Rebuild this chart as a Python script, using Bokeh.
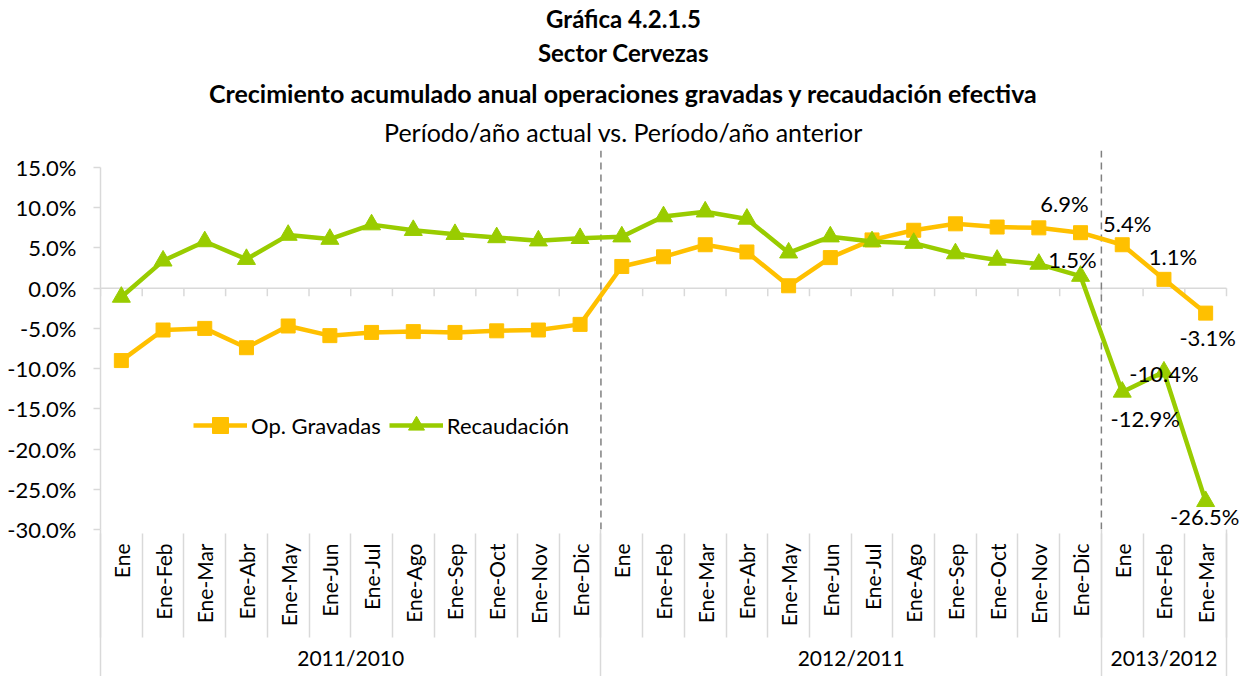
import math
from bokeh.plotting import figure
from bokeh.models import (Range1d, LinearAxis, FixedTicker,
                          PrintfTickFormatter, Label, LabelSet, ColumnDataSource,
                          Legend, LegendItem)
from bokeh.core.properties import value
from bokeh.embed import file_html
from bokeh.resources import INLINE

# ---------------- data ----------------
months_full = ["Ene", "Ene-Feb", "Ene-Mar", "Ene-Abr", "Ene-May", "Ene-Jun",
               "Ene-Jul", "Ene-Ago", "Ene-Sep", "Ene-Oct", "Ene-Nov", "Ene-Dic"]
months_2013 = ["Ene", "Ene-Feb", "Ene-Mar"]
group_names = ["2011/2010", "2012/2011", "2013/2012"]
categories = months_full + months_full + months_2013
groups = [group_names[0]] * 12 + [group_names[1]] * 12 + [group_names[2]] * 3

op_gravadas = [-9.0, -5.2, -5.0, -7.4, -4.7, -5.9, -5.5, -5.4, -5.5, -5.3, -5.2, -4.5,
               2.7, 3.9, 5.4, 4.5, 0.3, 3.8, 6.0, 7.2, 8.0, 7.6, 7.5, 6.9,
               5.4, 1.1, -3.1]
recaudacion = [-1.1, 3.4, 5.8, 3.6, 6.6, 6.1, 7.9, 7.2, 6.7, 6.3, 5.9, 6.2,
               6.4, 8.9, 9.5, 8.6, 4.4, 6.4, 5.8, 5.6, 4.3, 3.5, 3.0, 1.5,
               -12.9, -10.4, -26.5]
y_ticks = [15, 10, 5, 0, -5, -10, -15, -20, -25, -30]

labeled_idx = [23, 24, 25, 26]
# label offsets in screen px (style)
grav_dx = [-16, 5, 9, 2]
grav_dy = [29, 21, 23, -24]
rec_dx = [-8, 23, 0, -1]
rec_dy = [17, -27, -2, -15]

FONT = "Lato"
ORANGE = "#FFC000"
GREEN = "#99CC00"
LIGHT = "#d9d9d9"

n = len(categories)
xpos = [i + 0.5 for i in range(n)]          # category centres on the axis scale
bounds_all = list(range(n + 1))
g_bounds = [0]
for g in group_names:
    g_bounds.append(g_bounds[-1] + groups.count(g))
g_centers = [(a + b) / 2 for a, b in zip(g_bounds[:-1], g_bounds[1:])]

# frame: left 100px, reaching right and top canvas edges (room for texts)
W, H = 1246, 676
LEFT, BOTTOM = 100, 147
PLOT_W = 1126.0                 # width of the 27 categories
x_end = n * (W - LEFT) / PLOT_W
y_top = -30 + (H - BOTTOM) / 8.044
p = figure(width=W, height=H, x_range=Range1d(0, x_end), y_range=Range1d(-30, y_top),
           output_backend="svg", toolbar_location=None, x_axis_location=None,
           min_border_left=LEFT, min_border_right=0, min_border_top=0,
           min_border_bottom=BOTTOM, background_fill_color="white",
           border_fill_color="white")
p.outline_line_color = None
p.xgrid.grid_line_color = None
p.ygrid.grid_line_color = None

# y axis
ya = p.yaxis[0]
ya.ticker = FixedTicker(ticks=y_ticks)
ya.formatter = PrintfTickFormatter(format="%.1f%%")
ya.bounds = (-30, 15)
ya.axis_line_color = LIGHT
ya.axis_line_width = 1.5
ya.major_tick_line_color = LIGHT
ya.major_tick_line_width = 1.5
ya.major_tick_out = 7
ya.major_tick_in = 0
ya.minor_tick_line_color = None
ya.major_label_standoff = 17
ya.major_label_text_font = FONT
ya.major_label_text_font_size = "22px"
ya.major_label_text_color = "black"

# category labels axis; its minor ticks are the period separators (down to the bottom)
EA = 96          # extent of the category label axis (gap + label length)
ax_a = LinearAxis(ticker=FixedTicker(ticks=xpos, minor_ticks=g_bounds),
                  major_label_overrides={c: lab for c, lab in zip(xpos, categories)},
                  major_label_orientation=math.pi / 2,
                  major_tick_out=0, major_tick_in=0,
                  minor_tick_out=BOTTOM, minor_tick_in=0,
                  minor_tick_line_color=LIGHT, minor_tick_line_width=1.5,
                  axis_line_color=None, major_label_standoff=14 - BOTTOM,
                  major_label_text_font=FONT, major_label_text_font_size="21px",
                  major_label_text_color="black")
p.add_layout(ax_a, "below")

# period labels axis, with the category separators as minor ticks
ax_b = LinearAxis(ticker=FixedTicker(ticks=g_centers, minor_ticks=bounds_all),
                  major_label_overrides={c: lab for c, lab in zip(g_centers, group_names)},
                  major_tick_out=0, major_tick_in=0,
                  minor_tick_in=EA, minor_tick_out=8,
                  minor_tick_line_color=LIGHT, minor_tick_line_width=1.5,
                  axis_line_color=None, major_label_standoff=7,
                  major_label_text_font=FONT, major_label_text_font_size="21px",
                  major_label_text_color="black")
p.add_layout(ax_b, "below")

# zero line with small ticks
p.segment(x0=[0], x1=[n], y0=[0], y1=[0], line_color=LIGHT, line_width=1.5)
p.segment(x0=bounds_all, x1=bounds_all, y0=[0] * (n + 1), y1=[-1.0] * (n + 1),
          line_color=LIGHT, line_width=1.5)

# dashed period separators
inner = g_bounds[1:-1]
p.segment(x0=inner, x1=inner, y0=[-30] * len(inner), y1=[17.1] * len(inner),
          line_color="#808080", line_width=1.5, line_dash="7 5")

# series
src = ColumnDataSource(dict(x=xpos, g=op_gravadas, r=recaudacion))
l1 = p.line("x", "g", source=src, line_color=ORANGE, line_width=4.5)
s1 = p.scatter("x", "g", source=src, marker="square", size=14, color=ORANGE)
l2 = p.line("x", "r", source=src, line_color=GREEN, line_width=4.5)
s2 = p.scatter("x", "r", source=src, marker="triangle", size=18, color=GREEN)

# data labels
def lab_source(vals, dx, dy):
    return ColumnDataSource(dict(
        x=[xpos[i] for i in labeled_idx],
        y=[vals[i] for i in labeled_idx],
        t=[f"{vals[i]:.1f}%" for i in labeled_idx],
        dx=dx, dy=dy))

for vals, dx, dy in [(op_gravadas, grav_dx, grav_dy), (recaudacion, rec_dx, rec_dy)]:
    p.add_layout(LabelSet(x="x", y="y", text="t", source=lab_source(vals, dx, dy),
                          x_offset="dx", y_offset="dy", text_align="center",
                          text_baseline="middle", text_font=value(FONT),
                          text_font_size="22px", text_color="black"))

# legend
legend = Legend(items=[LegendItem(label="Op. Gravadas", renderers=[l1, s1]),
                       LegendItem(label="Recaudación", renderers=[l2, s2])],
                location=(93, 84), orientation="horizontal", glyph_width=54,
                glyph_height=40, label_standoff=4, spacing=8, padding=0, margin=0,
                border_line_color=None, background_fill_alpha=0,
                label_text_font=FONT, label_text_font_size="22px",
                label_text_color="black")
p.add_layout(legend)

# titles (inside the frame area, measured from its bottom-left corner)
titles = [("Gráfica 4.2.1.5", 511, "bold", "24px"),
          ("Sector Cervezas", 477, "bold", "24px"),
          ("Crecimiento acumulado anual operaciones gravadas y recaudación efectiva", 437, "bold", "25px"),
          ("Período/año actual vs. Período/año anterior", 398, "normal", "25px")]
for txt, yy, style, size in titles:
    p.add_layout(Label(x=523, y=yy, x_units="screen", y_units="screen", text=txt,
                       text_align="center", text_baseline="middle", text_font=FONT,
                       text_font_style=style, text_font_size=size, text_color="black"))

open("out.html", "w").write(file_html(p, INLINE))
